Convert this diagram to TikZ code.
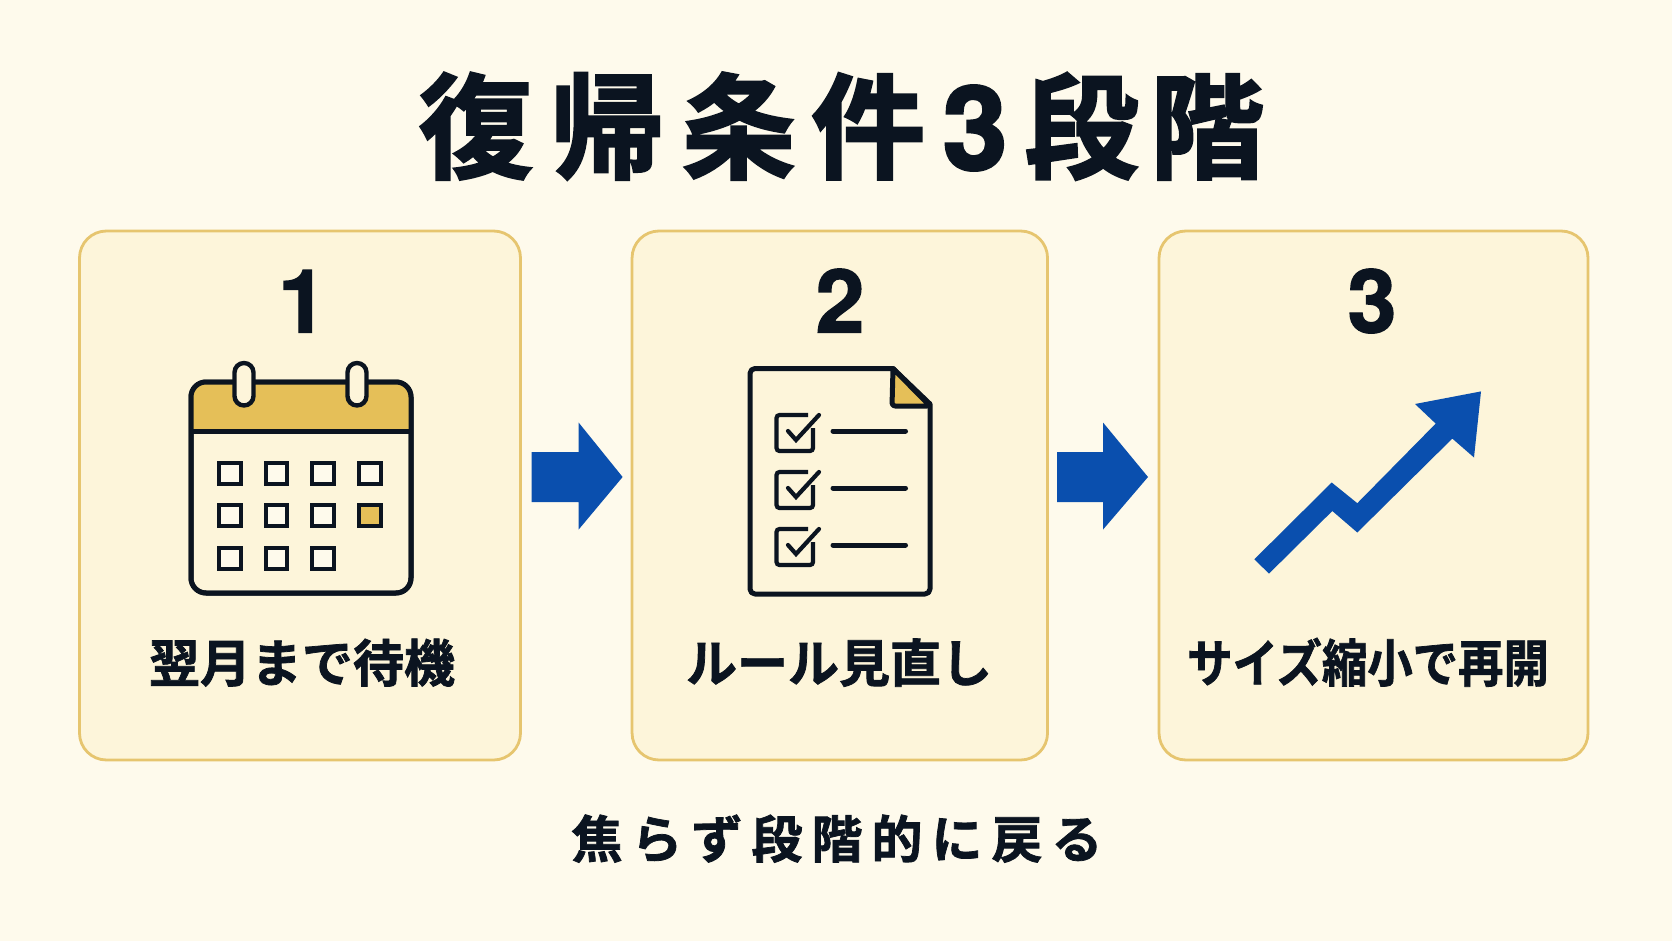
\documentclass[tikz,border=0pt]{standalone}
\usepackage{fontspec}
\setmainfont{Noto Sans CJK JP}[BoldFont={Noto Sans CJK JP Bold}]
\newfontfamily\cjkheavy{Noto Sans CJK JP Bold}[FakeBold=2.2]
\newfontfamily\cjkbold{Noto Sans CJK JP Bold}[FakeBold=1.5]
\newfontfamily\numfam{TeX Gyre Heros}[BoldFeatures={FakeBold=1.6}]
\newfontfamily\numtitle{TeX Gyre Heros}[BoldFeatures={FakeBold=2.5}]
\definecolor{bgc}{HTML}{FEFAEC}
\definecolor{cardc}{HTML}{FDF5DA}
\definecolor{cardline}{HTML}{E6C56F}
\definecolor{inkc}{HTML}{0B1420}
\definecolor{goldc}{HTML}{E5BF58}
\definecolor{bluec}{HTML}{0A4FAE}
\newcommand{\fs}[1]{\fontsize{#1}{#1}\selectfont}
\tikzset{
  cardbox/.style={draw=cardline,fill=cardc,line width=2.8pt,rounded corners=27pt,inner sep=0pt,minimum height=529pt},
  stepnum/.style={anchor=base,text=inkc,inner sep=0pt,font=\numfam\bfseries\fs{88}},
  steplabel/.style={anchor=base,text=inkc,inner sep=0pt,font=\cjkbold\fs{51}},
  icon/.style={draw=inkc,line width=5pt,line join=round,line cap=round},
  daybox/.style={draw=inkc,line width=4pt,fill=bgc},
  blockarrow/.style={fill=bluec,draw=none},
}
\begin{document}
\begin{tikzpicture}[x=1pt,y=-1pt]
\useasboundingbox (0,0) rectangle (1672,941);
\fill[bgc] (0,0) rectangle (1672,941);
% title
\node[anchor=base,text=inkc,inner sep=0pt,font=\cjkheavy\fs{114}] (title) at (841.5,169.5) {復\kern17.5pt 帰\kern17.5pt 条\kern15.5pt 件\kern17.5pt {\numtitle\bfseries\fs{116}3}\kern17.5pt 段\kern11.5pt 階};
% cards
\node[cardbox,minimum width=441pt] (card1) at (300,495.5) {};
\node[cardbox,minimum width=415.5pt] (card2) at (839.8,495.5) {};
\node[cardbox,minimum width=429pt] (card3) at (1373.5,495.5) {};
% numbers
\node[stepnum] (n1) at (302.5,332.5) {1};
\node[stepnum] (n2) at (840,332.5) {2};
\node[stepnum] (n3) at (1372,332.5) {3};
% labels
\node[steplabel] (l1) at (302,682) {翌月まで待機};
\node[steplabel] (l2) at (839,682) {ルール見直し};
\node[steplabel,xscale=0.89] (l3) at (1368,682) {サイズ縮小で再開};
% block arrows
\fill[blockarrow] (531.5,452) -- (578.6,452) -- (578.6,422.5) -- (622.6,477) -- (578.6,529.6) -- (578.6,502) -- (531.5,502) -- cycle;
\fill[blockarrow] (1057,452) -- (1103,452) -- (1103,422.5) -- (1148,477) -- (1103,529.6) -- (1103,502) -- (1057,502) -- cycle;
% calendar
\draw[icon,fill=cardc,rounded corners=15pt] (191,382) rectangle (411,593);
\fill[goldc,rounded corners=13pt] (193,384) -- (409,384) -- (409,431) -- (193,431) -- cycle;
\fill[goldc] (193,405) rectangle (409,431);
\draw[icon,rounded corners=15pt] (191,382) rectangle (411,593);
\draw[icon,line cap=butt] (191,431.5) -- (411,431.5);
\foreach \x in {244,357}{
  \draw[draw=inkc,line width=4.4pt,fill=cardc,rounded corners=9.5pt] (\x-9.5,363) rectangle (\x+9.5,405.5);
}
\foreach \x/\y in {230/473,276.6/473,323/473,370/473,230/515,276.6/515,323/515,230/558,276.6/558,323/558}{
  \draw[daybox] (\x-10.7,\y-10.5) rectangle (\x+10.7,\y+10.5);
}
\draw[daybox,fill=goldc] (370-10.7,515-10.5) rectangle (370+10.7,515+10.5);
% document
\draw[icon,fill=cardc,rounded corners=5pt] (893,368.5) -- (750,368.5) -- (750,594) -- (930,594) [sharp corners] -- (930,404) -- cycle;
\draw[icon,fill=goldc,rounded corners=3pt] (893,368.5) -- (892,406) -- (930,406) [sharp corners] -- cycle;
\foreach \y in {0,57,114}{
  \begin{scope}[yshift=-\y pt]
  \draw[draw=inkc,line width=4.2pt,rounded corners=3pt] (813,428) -- (813,451) -- (776.5,451) -- (776.5,415) -- (808,415);
  \draw[draw=inkc,line width=4.2pt,line cap=round,line join=miter] (788,431) -- (796,440) -- (819,415);
  \draw[icon] (833,431) -- (905.5,431);
  \end{scope}
}
% chart arrow
\fill[bluec] (1254.3,559.3) -- (1269,573.6) -- (1332.3,511) -- (1357.3,532.5) -- (1452.3,438.6) -- (1474,457.5) -- (1481,391.4) -- (1415,404) -- (1435.7,423.6) -- (1357.3,503.2) -- (1331.7,482.5) -- cycle;
% bottom text
\node[anchor=base,text=inkc,inner sep=0pt,font=\cjkbold\fs{51}] (foot) at (837,858) {焦\kern9pt ら\kern9pt ず\kern9pt 段\kern9pt 階\kern9pt 的\kern9pt に\kern9pt 戻\kern9pt る};
\end{tikzpicture}
\end{document}
